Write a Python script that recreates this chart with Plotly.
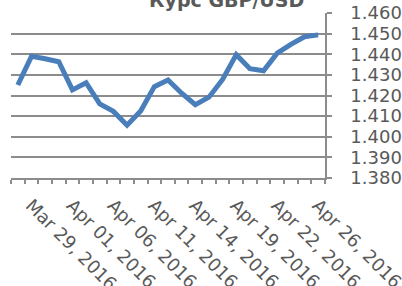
import plotly.graph_objects as go

dates = ["Mar 29, 2016", "Mar 30, 2016", "Mar 31, 2016", "Apr 01, 2016", "Apr 04, 2016",
         "Apr 05, 2016", "Apr 06, 2016", "Apr 07, 2016", "Apr 08, 2016", "Apr 11, 2016",
         "Apr 12, 2016", "Apr 13, 2016", "Apr 14, 2016", "Apr 15, 2016", "Apr 18, 2016",
         "Apr 19, 2016", "Apr 20, 2016", "Apr 21, 2016", "Apr 22, 2016", "Apr 24, 2016",
         "Apr 25, 2016", "Apr 26, 2016", "Apr 27, 2016"]
rates = [1.4251, 1.4390, 1.4378, 1.4364, 1.4227, 1.4262, 1.4159, 1.4123, 1.4056, 1.4125,
         1.4243, 1.4275, 1.4211, 1.4155, 1.4192, 1.4278, 1.4398, 1.4330, 1.4320, 1.4405,
         1.4448, 1.4485, 1.4494]
y_ticks = [1.38, 1.39, 1.40, 1.41, 1.42, 1.43, 1.44, 1.45, 1.46]
label_step = 3
title_text = "Курс GBP/USD"

x_idx = list(range(len(dates)))
grid = "#8c8c8c"
txt = "#595959"
font_family = "DejaVu Sans"

fig = go.Figure()
fig.add_trace(go.Scatter(x=x_idx, y=rates, mode="lines",
                         line=dict(color="#4a7ebb", width=5),
                         hoverinfo="skip", showlegend=False))

fig.update_layout(
    width=402, height=286,
    margin=dict(l=11, r=77, t=13, b=108),
    paper_bgcolor="white", plot_bgcolor="white",
    font=dict(family=font_family, color=txt, size=17),
    annotations=[dict(text="<b>" + title_text + "</b>", xref="paper", yref="paper",
                      x=(226 - 11) / 314, y=1.08, xanchor="center", yanchor="middle",
                      showarrow=False, font=dict(family=font_family, size=19, color=txt))],
)
fig.update_xaxes(
    range=[-0.5, len(dates) - 0.5], automargin=False,
    tickvals=x_idx[::label_step], ticktext=dates[::label_step],
    tickangle=45, ticks="", showgrid=False, zeroline=False,
    showline=True, linecolor=grid, linewidth=1.5,
    tickfont=dict(size=18, color=txt), ticklabeloverflow="allow",
    ticklabelstandoff=8, ticklabelshift=13,
    minor=dict(tickvals=[i - 0.5 for i in range(len(dates) + 1)], ticks="outside",
               ticklen=4, tickcolor=grid, tickwidth=1.5, showgrid=False),
)
fig.update_yaxes(
    range=[y_ticks[0], y_ticks[-1]], side="right", automargin=False,
    tickvals=y_ticks, tickformat=".4f",
    ticks="outside", ticklen=5, tickcolor=grid, tickwidth=1.5,
    showgrid=True, gridcolor=grid, gridwidth=1.5,
    showline=True, linecolor=grid, linewidth=1.5, zeroline=False,
    ticklabelstandoff=15, ticklabeloverflow="allow",
    tickfont=dict(size=18, color=txt),
)

fig.write_html("out.html", config={"displayModeBar": False},
               post_script="document.body.style.margin='0';document.body.style.overflow='hidden';")
